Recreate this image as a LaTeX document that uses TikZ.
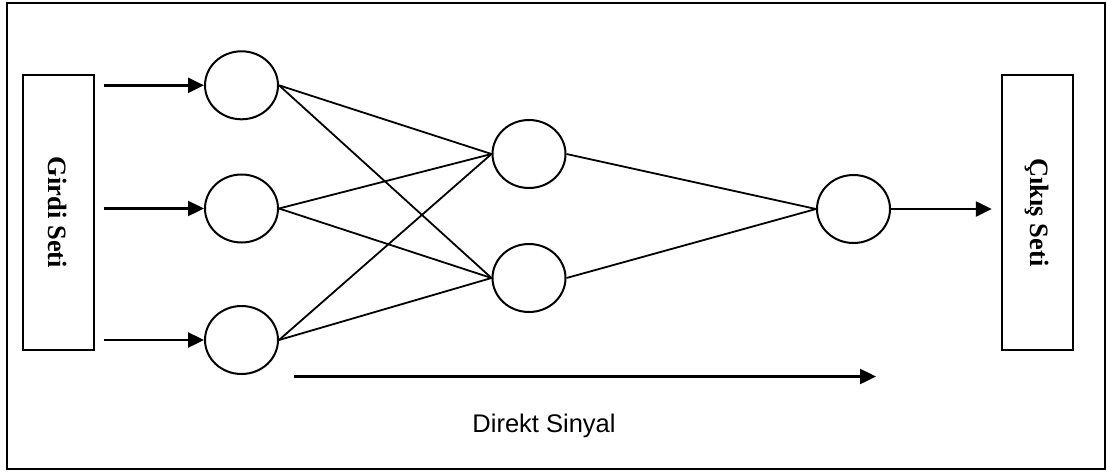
\documentclass[tikz,border=0pt]{standalone}
\usepackage{fontspec}
\setmainfont{Liberation Serif}
\newfontfamily\arialfont{Liberation Sans}
\usepackage{tikz}
\usetikzlibrary{shapes.geometric, arrows.meta}
\tikzstyle{neuron} = [ellipse, minimum width=73pt, minimum height=68pt, inner sep=0pt, draw=black, line width=2pt]
\tikzstyle{setbox} = [rectangle, minimum width=71pt, minimum height=275pt, inner sep=0pt, draw=black, line width=2pt]
\tikzstyle{settext} = [rotate=-90, font=\fontsize{26.5}{30}\selectfont\bfseries]
\tikzstyle{arrow} = [line width=2.4pt, -{Triangle[length=16pt, width=15pt]}]
\tikzstyle{link} = [line width=1.8pt]

\begin{document}
\begin{tikzpicture}[x=1pt, y=-1pt]
\useasboundingbox (0,0) rectangle (1107,471);
\draw[line width=2.5pt] (7,3) rectangle (1105,469);

\node(gset)[setbox] at (58,212.5){};
\node[settext] at (gset.center){Girdi Seti};
\node(cset)[setbox] at (1037.3,212.5){};
\node[settext] at (cset.center){Çıkış Seti};

\node(in1)[neuron] at (241.5,85.3){};
\node(in2)[neuron] at (241.5,208.5){};
\node(in3)[neuron] at (241.5,340){};
\node(h1)[neuron] at (529,154){};
\node(h2)[neuron] at (529,278){};
\node(out)[neuron] at (853.5,209){};

\draw[arrow, shorten <=9pt] (gset.east |- in1) -- (in1);
\draw[arrow, shorten <=9pt] (gset.east |- in2) -- (in2);
\draw[arrow, shorten <=9pt] (gset.east |- in3) -- (in3);

\foreach \i in {1,2,3}
  \foreach \j in {1,2}
    \draw[link] (in\i.east) -- (h\j.west);
\draw[link] (h1.east) -- (out.west);
\draw[link] (h2.east) -- (out.west);

\draw[arrow, shorten >=9pt] (out) -- (cset.west |- out);

\coordinate(ds1) at (294,376.5);
\coordinate(ds2) at (876,376.5);
\draw[arrow] (ds1) -- (ds2);
\node(dslabel)[anchor=base, font=\arialfont\fontsize{25.5}{29}\selectfont] at (544,432){Direkt Sinyal};

\end{tikzpicture}
\end{document}
